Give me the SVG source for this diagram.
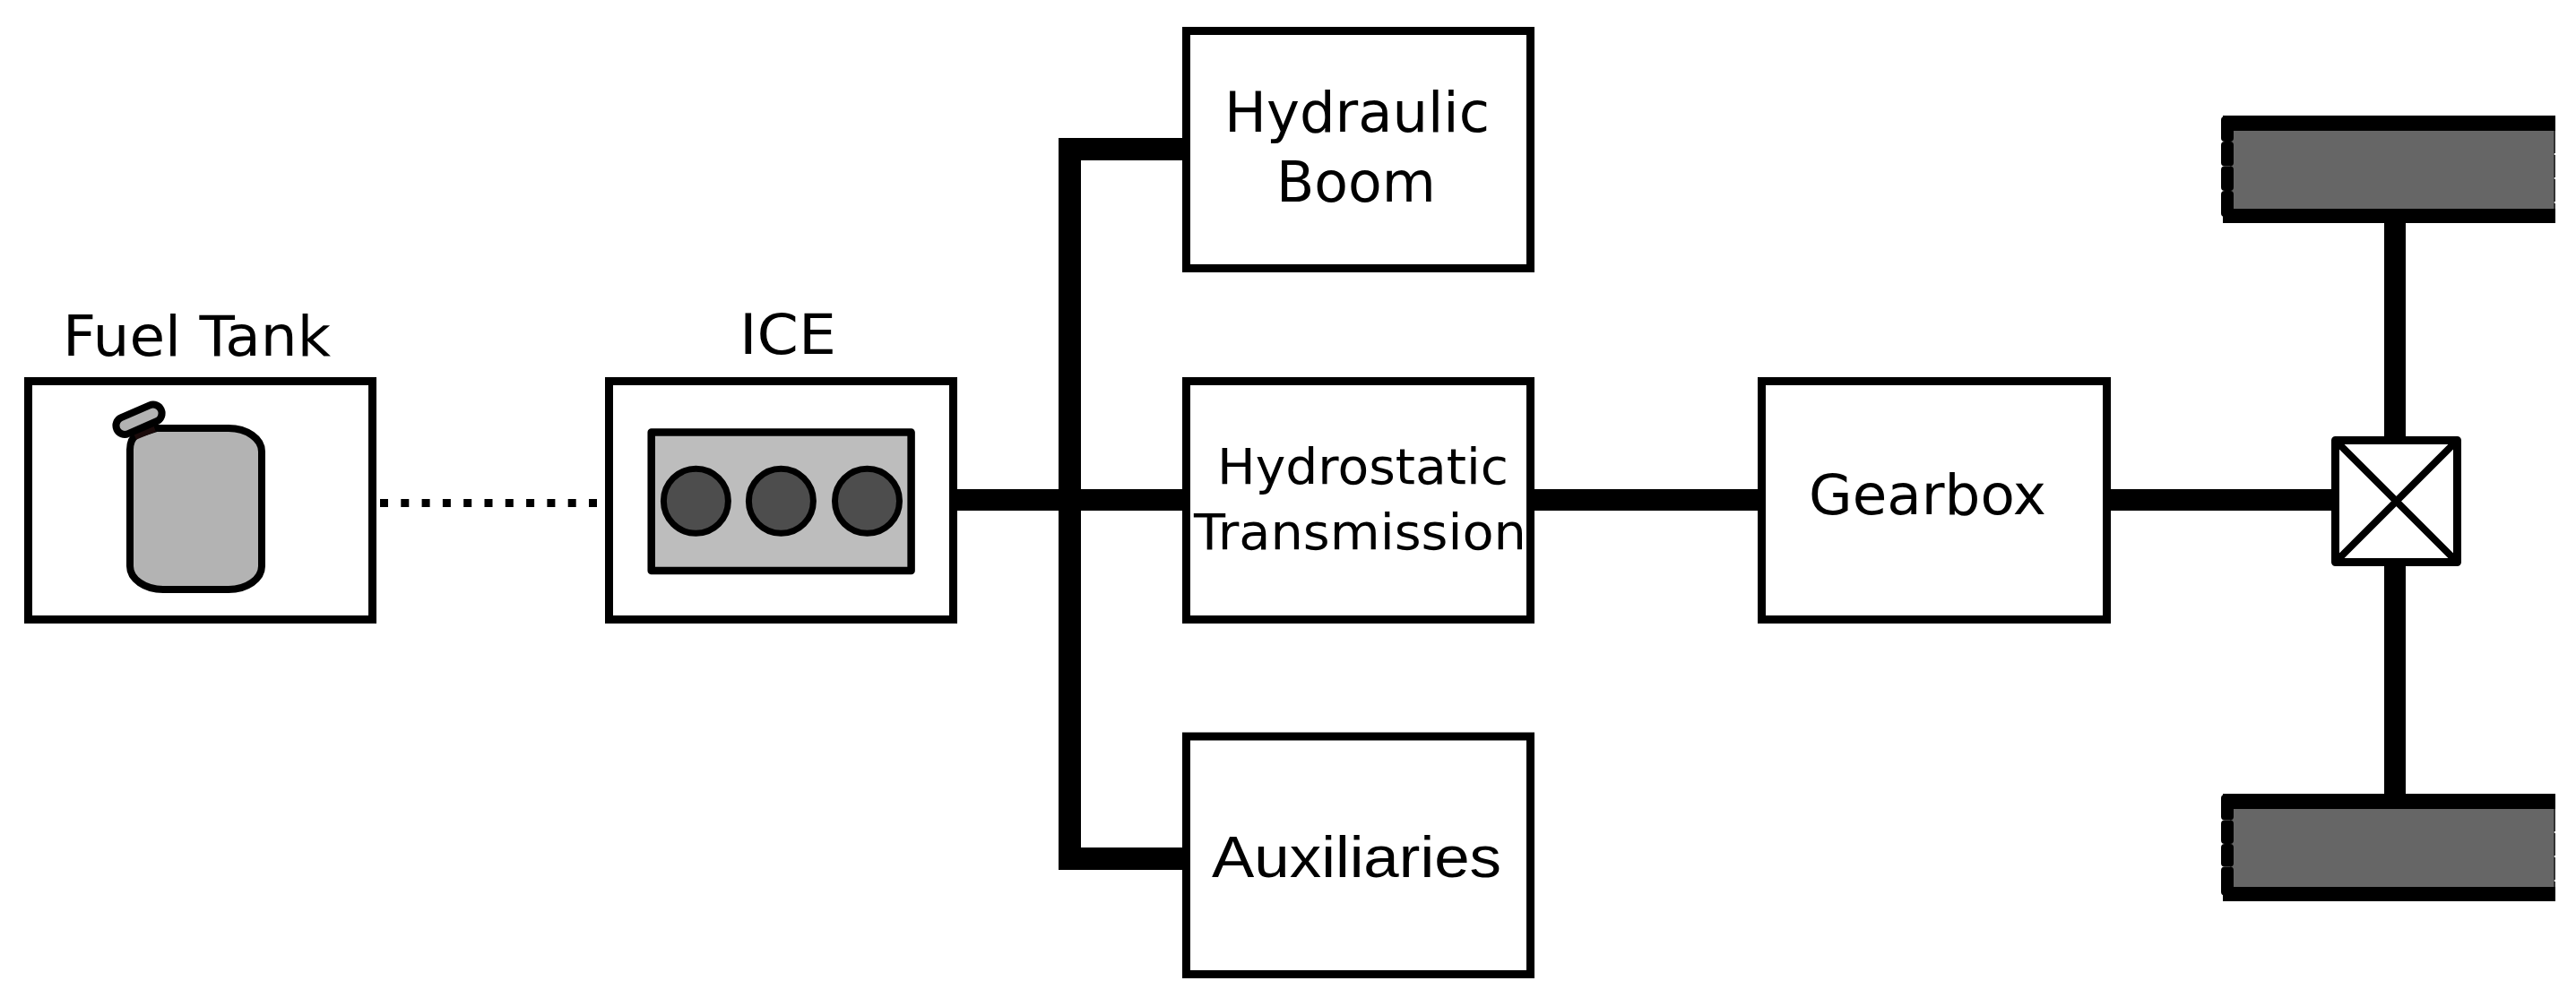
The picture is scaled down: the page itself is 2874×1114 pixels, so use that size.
<svg xmlns="http://www.w3.org/2000/svg" width="2874" height="1114" viewBox="0 0 2874 1114">
<style>
.box{fill:#fff;stroke:#000;stroke-width:9}
.wire{fill:none;stroke:#000;stroke-width:24}
.bus{fill:none;stroke:#000;stroke-width:25}
.dj{font-family:"DejaVu Sans",sans-serif;font-size:63px;fill:#000}
.small{font-size:56px}
.lib{font-family:"Liberation Sans",Arial,sans-serif;font-size:64px;fill:#000}
.seg{fill:#000}
.tyre{fill:#666}
.rim{fill:none;stroke:#333;stroke-width:2;stroke-dasharray:25 2}
</style>
<rect width="2874" height="1114" fill="#fff"/>
<g id="connectors">
<path class="wire" d="M1068 558H1319"/>
<path class="bus" d="M1319 166.500H1193.500V958.500H1319"/>
<path class="wire" d="M1712 558H1961"/>
<path class="wire" d="M2355 558H2601"/>
<path class="wire" d="M2672 249V487"/>
<path class="wire" d="M2672 632V886"/>
<path d="M424 561.500H667" fill="none" stroke="#000" stroke-width="9" stroke-dasharray="9 14.300"/>
</g>
<g id="fuel-tank">
<rect class="box" x="31.500" y="425.500" width="384" height="266"/>
<path d="M145 502Q145 490 153 485L175 478H255A37 26 0 0 1 292 504V632A37 26 0 0 1 255 658H182A37 26 0 0 1 145 632Z" fill="#b3b3b3" stroke="#000" stroke-width="8"/>
<path d="M150 486L172 477" fill="none" stroke="#1a0a0a" stroke-width="10"/>
<rect x="128" y="458.500" width="54" height="19.500" rx="9.700" transform="rotate(-23.500 155 468.200)" fill="#b3b3b3" stroke="#000" stroke-width="8"/>
<text class="dj" x="70" y="397" textLength="299" lengthAdjust="spacingAndGlyphs">Fuel Tank</text>
</g>
<g id="ice">
<rect class="box" x="679.500" y="425.500" width="384" height="266"/>
<rect x="726.700" y="482.500" width="289.900" height="154.500" fill="#bdbdbd" stroke="#000" stroke-width="8.500" stroke-linejoin="round"/>
<circle cx="776.400" cy="559.300" r="36" fill="#4d4d4d" stroke="#000" stroke-width="7"/>
<circle cx="871.400" cy="559.300" r="36" fill="#4d4d4d" stroke="#000" stroke-width="7"/>
<circle cx="967.500" cy="559.300" r="36" fill="#4d4d4d" stroke="#000" stroke-width="7"/>
<text class="dj" x="825" y="395" textLength="108" lengthAdjust="spacingAndGlyphs">ICE</text>
</g>
<g id="hydraulic-boom">
<rect class="box" x="1323.500" y="34.500" width="384" height="265"/>
<text class="dj" x="1366" y="147" textLength="296" lengthAdjust="spacingAndGlyphs">Hydraulic</text>
<text class="dj" x="1424" y="225" textLength="178" lengthAdjust="spacingAndGlyphs">Boom</text>
</g>
<g id="hydrostatic-transmission">
<rect class="box" x="1323.500" y="425.500" width="384" height="266"/>
<text class="dj small" x="1358" y="540" textLength="325" lengthAdjust="spacingAndGlyphs">Hydrostatic</text>
<text class="dj small" x="1332" y="613" textLength="371" lengthAdjust="spacingAndGlyphs">Transmission</text>
</g>
<g id="auxiliaries">
<rect class="box" x="1323.500" y="822" width="384" height="265.500"/>
<text class="lib" x="1352" y="979" textLength="323" lengthAdjust="spacingAndGlyphs">Auxiliaries</text>
</g>
<g id="gearbox">
<rect class="box" x="1965.500" y="425.500" width="385" height="266"/>
<text class="dj" x="2018" y="574" textLength="265" lengthAdjust="spacingAndGlyphs">Gearbox</text>
</g>
<g id="differential">
<rect x="2605.500" y="491.500" width="136" height="136" fill="#fff" stroke="#000" stroke-width="9" stroke-linejoin="round"/>
<path d="M2607 493L2740 626M2740 493L2607 626" fill="none" stroke="#000" stroke-width="8"/>
</g>
<g id="wheel-top">
<rect class="tyre" x="2488" y="145" width="362" height="89"/>
<rect class="seg" x="2480" y="129" width="371" height="17"/>
<rect class="seg" x="2480" y="233" width="371" height="16"/>
<rect class="seg" x="2478" y="130" width="14" height="28" rx="4"/>
<rect class="seg" x="2478" y="158" width="14" height="27.500" rx="4"/>
<rect class="seg" x="2478" y="185.500" width="14" height="27.500" rx="4"/>
<rect class="seg" x="2478" y="213" width="14" height="29" rx="4"/>
<path class="rim" d="M2850 146V233"/>
</g>
<g id="wheel-bottom">
<rect class="tyre" x="2488" y="902" width="362" height="89"/>
<rect class="seg" x="2480" y="886" width="371" height="17"/>
<rect class="seg" x="2480" y="990" width="371" height="16"/>
<rect class="seg" x="2478" y="887" width="14" height="28.500" rx="4"/>
<rect class="seg" x="2478" y="915.500" width="14" height="26.500" rx="4"/>
<rect class="seg" x="2478" y="942" width="14" height="25.500" rx="4"/>
<rect class="seg" x="2478" y="967.500" width="14" height="32" rx="4"/>
<path class="rim" d="M2850 903V990"/>
</g>
</svg>
